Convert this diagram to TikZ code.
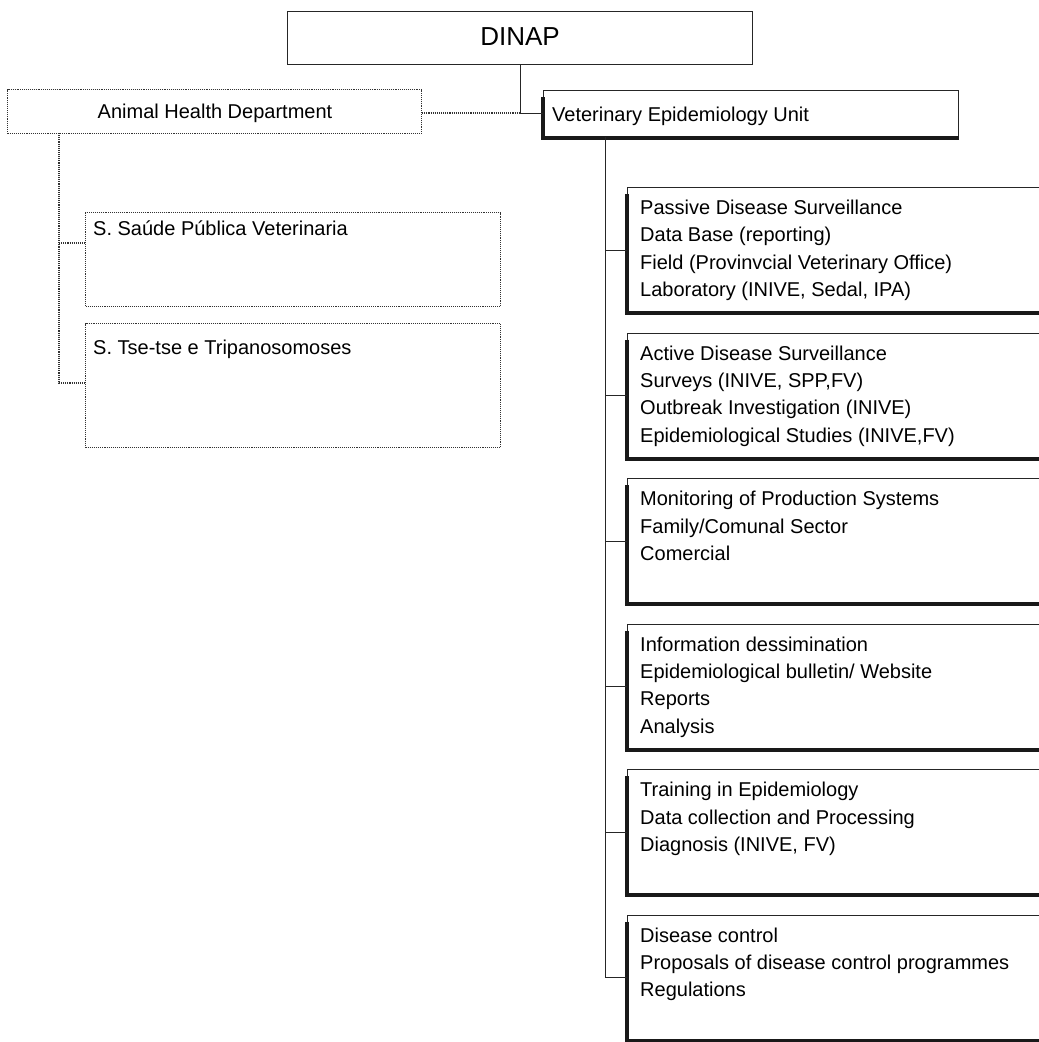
\documentclass[tikz,border=0pt]{standalone}
\usepackage{fontspec}
\setmainfont{Liberation Sans}
\begin{document}
\begin{tikzpicture}[x=1pt,y=-1pt,
  solidbox/.style={draw=black!85, line width=1pt, inner sep=0pt, anchor=north west},
  dotbox/.style={draw=black!80, line width=1.1pt, densely dotted, inner sep=0pt, anchor=north west},
  shadowline/.style={line width=4pt, black!90},
  conn/.style={draw=black!85, line width=1pt},
  dotconn/.style={draw=black!80, line width=1.1pt, densely dotted},
  boxtext/.style={inner sep=0pt, anchor=north west, align=left, font=\fontsize{20}{27.3}\selectfont}]
\useasboundingbox (0,0) rectangle (1039,1042);
\fill[white] (0,0) rectangle (1039,1042);

% DINAP
\node[solidbox, minimum width=465pt, minimum height=53pt] (dinap) at (287,11) {};
\node[inner sep=0pt, font=\fontsize{26}{30}\selectfont] (dinapt) at (520,37) {DINAP};

% Veterinary Epidemiology Unit
\node[solidbox, minimum width=415pt, minimum height=47pt] (veu) at (543,90) {};
\draw[shadowline] ([yshift=-7pt]veu.north west) -- (veu.south west) -- (veu.south east);
\node[boxtext, anchor=west] (veut) at (552,116) {Veterinary Epidemiology Unit};

% Animal Health Department
\node[dotbox, minimum width=414pt, minimum height=44pt] (ahd) at (7,89) {};
\node[boxtext, anchor=center] (ahdt) at (215,113) {Animal Health Department};

% Sub sections
\node[dotbox, minimum width=415pt, minimum height=94pt] (ssp) at (85,212) {};
\node[boxtext] (sspt) at (93,221) {S. Saúde Pública Veterinaria};
\node[dotbox, minimum width=415pt, minimum height=124pt] (stt) at (85,323) {};
\node[boxtext] (sttt) at (93,340) {S. Tse-tse e Tripanosomoses};

% connectors top
\coordinate (dj) at (520,113);
\draw[conn] (dinap.south -| dj) -- (dj) -- (veu.west |- dj);
\draw[dotconn] (ahd.east |- dj) -- (dj);
\coordinate (ahdb) at (59,133);
\coordinate (c1) at (59,243);
\coordinate (c2) at (59,383);
\draw[dotconn] (ahdb) -- (c2) -- (stt.west |- c2);
\draw[dotconn] (c1) -- (ssp.west |- c1);

% right column boxes
\foreach \i/\txt in {
  1/{Passive Disease Surveillance\\Data Base (reporting)\\Field (Provinvcial Veterinary Office)\\Laboratory (INIVE, Sedal, IPA)},
  2/{Active Disease Surveillance\\Surveys (INIVE, SPP,FV)\\Outbreak Investigation (INIVE)\\Epidemiological Studies (INIVE,FV)},
  3/{Monitoring of Production Systems\\Family/Comunal Sector\\Comercial},
  4/{Information dessimination\\Epidemiological bulletin/ Website\\Reports\\Analysis},
  5/{Training in Epidemiology\\Data collection and Processing\\Diagnosis (INIVE, FV)},
  6/{Disease control\\Proposals of disease control programmes\\Regulations}}{
  \pgfmathsetmacro{\top}{187+145.5*(\i-1)}
  \node[solidbox, minimum width=412pt, minimum height=125pt] (b\i) at (627,\top) {};
  \draw[shadowline] ([yshift=-7pt]b\i.north west) -- (b\i.south west) -- (b\i.south east);
  \node[boxtext] (t\i) at (640,\top+13) {\txt};
  \draw[conn] (b\i.west) -- (b\i.west -| 605,0);
}
\coordinate (vtop) at (605,137);
\draw[conn] (vtop) -- (b6.west -| vtop);
\end{tikzpicture}
\end{document}
